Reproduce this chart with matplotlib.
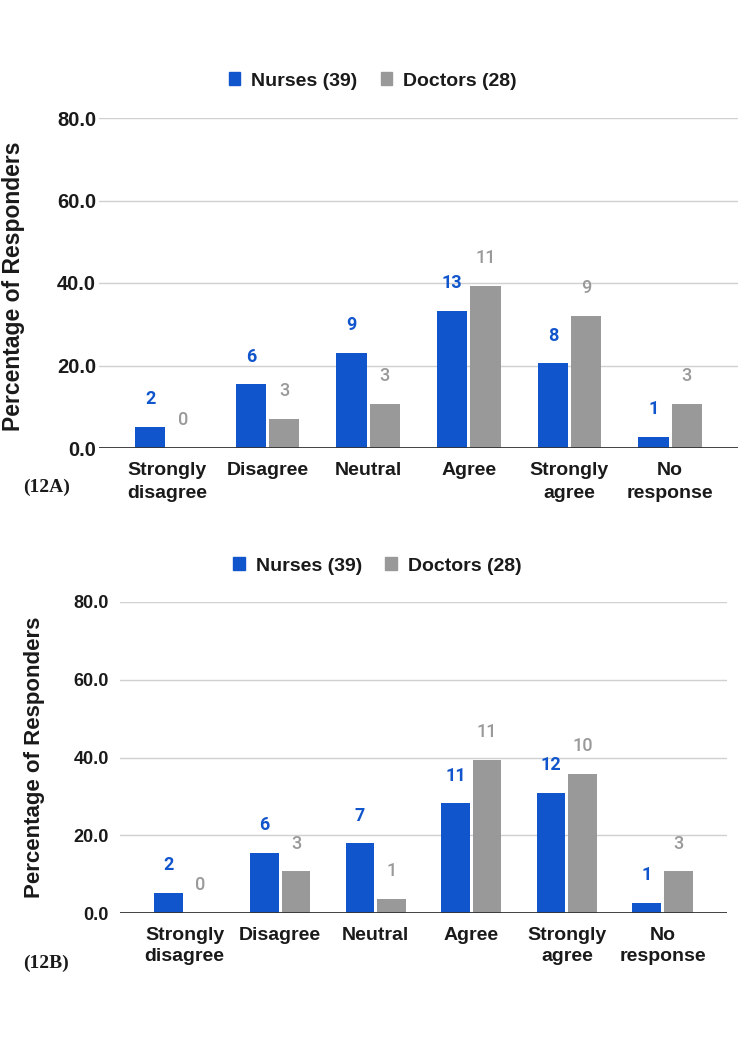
import numpy as np
import matplotlib
matplotlib.use("Agg")
import matplotlib.pyplot as plt
from matplotlib.patches import Patch

# response categories and the two staff groups
categories = ["Strongly\ndisagree", "Disagree", "Neutral", "Agree", "Strongly\nagree", "No\nresponse"]
groups = ["Nurses (39)", "Doctors (28)"]

# 12A - percentage of responders (bar height) and counts (label)
nurses_a_pct = [5.1, 15.4, 23.1, 33.3, 20.5, 2.6]
doctors_a_pct = [0.0, 7.1, 10.7, 39.3, 32.1, 10.7]
nurses_a_n = [2, 6, 9, 13, 8, 1]
doctors_a_n = [0, 3, 3, 11, 9, 3]

# 12B
nurses_b_pct = [5.1, 15.4, 17.9, 28.2, 30.8, 2.6]
doctors_b_pct = [0.0, 10.7, 3.6, 39.3, 35.7, 10.7]
nurses_b_n = [2, 6, 7, 11, 12, 1]
doctors_b_n = [0, 3, 1, 11, 10, 3]

yticks = [0, 20, 40, 60, 80]

BLUE = "#1155cc"
GREY = "#999999"
INK = "#1a1a1a"
SANS = ["Liberation Sans", "DejaVu Sans"]
NUM = ["Roboto", "Liberation Sans", "DejaVu Sans"]


"""
Draws one grouped bar panel: bars from the percentages, count labels
above each bar, light horizontal grid and a dark baseline.
"""
def panel(ax, nurses_pct, doctors_pct, nurses_n, doctors_n, tick_size, tick_pad, lsp):
	x = np.arange(len(categories))
	w = 0.3
	ax.bar(x - 0.165, nurses_pct, w, color=BLUE, zorder=3)
	ax.bar(x + 0.165, doctors_pct, w, color=GREY, zorder=3)

	for xi, p, n in zip(x, nurses_pct, nurses_n):
		ax.annotate(str(n), (xi - 0.165, p), xytext=(0, 20), textcoords="offset points",
			ha="center", va="center", color=BLUE, fontsize=13, fontweight="bold",
			family=NUM, annotation_clip=False)
	for xi, p, n in zip(x, doctors_pct, doctors_n):
		ax.annotate(str(n), (xi + 0.165, p), xytext=(0, 20), textcoords="offset points",
			ha="center", va="center", color=GREY, fontsize=13, fontweight="medium",
			family=NUM, annotation_clip=False)

	ax.set_xlim(-0.675, len(categories) - 1 + 0.675)
	ax.set_ylim(0, 80)
	ax.set_yticks(yticks)
	ax.set_yticklabels(["%.1f" % t for t in yticks], fontsize=tick_size, fontweight="bold",
		family=SANS, color=INK)
	ax.set_xticks(x)
	ax.set_xticklabels(categories, fontsize=14, fontweight="bold", family=SANS,
		color=INK, linespacing=lsp, va="top")
	ax.tick_params(axis="both", length=0)
	ax.tick_params(axis="y", pad=tick_pad)
	ax.tick_params(axis="x", pad=10)

	for t in yticks[1:]:
		ax.axhline(t, color="#d0d0d0", lw=1, zorder=1)
	ax.axhline(0, color="#333333", lw=1.3, zorder=4)
	for s in ax.spines.values():
		s.set_visible(False)


fig = plt.figure(figsize=(7.5, 10.61), dpi=100)
W, H = 750.0, 1061.0

ax_a = fig.add_axes([99 / W, 1 - 448 / H, (738 - 99) / W, (448 - 118) / H])
panel(ax_a, nurses_a_pct, doctors_a_pct, nurses_a_n, doctors_a_n, 14.5, 2, 1.5)

ax_b = fig.add_axes([120 / W, 1 - 913 / H, (727 - 120) / W, (913 - 602) / H])
panel(ax_b, nurses_b_pct, doctors_b_pct, nurses_b_n, doctors_b_n, 13, 8, 1.3)

handles = [Patch(color=BLUE), Patch(color=GREY)]
for cx, cy in ((0.497, 81), (0.503, 566)):
	fig.legend(handles, groups, loc="center", bbox_to_anchor=(cx, 1 - cy / H), ncol=2,
		frameon=False, handlelength=0.6, handleheight=0.6, handletextpad=0.55,
		columnspacing=1.2, prop={"family": SANS, "weight": "bold", "size": 14},
		labelcolor=INK)

fig.text(14 / W, 1 - 286 / H, "Percentage of Responders", rotation=90, ha="center",
	va="center", fontsize=16.5, fontweight="bold", family=SANS, color=INK)
fig.text(35 / W, 1 - 757 / H, "Percentage of Responders", rotation=90, ha="center",
	va="center", fontsize=16, fontweight="bold", family=SANS, color=INK)

fig.text(23 / W, 1 - 487 / H, "(12A)", ha="left", va="center", fontsize=14,
	fontweight="bold", family=["Liberation Serif", "DejaVu Serif"], color=INK)
fig.text(23 / W, 1 - 963 / H, "(12B)", ha="left", va="center", fontsize=14,
	fontweight="bold", family=["Liberation Serif", "DejaVu Serif"], color=INK)

fig.savefig("out.png", dpi=100, facecolor="white")
